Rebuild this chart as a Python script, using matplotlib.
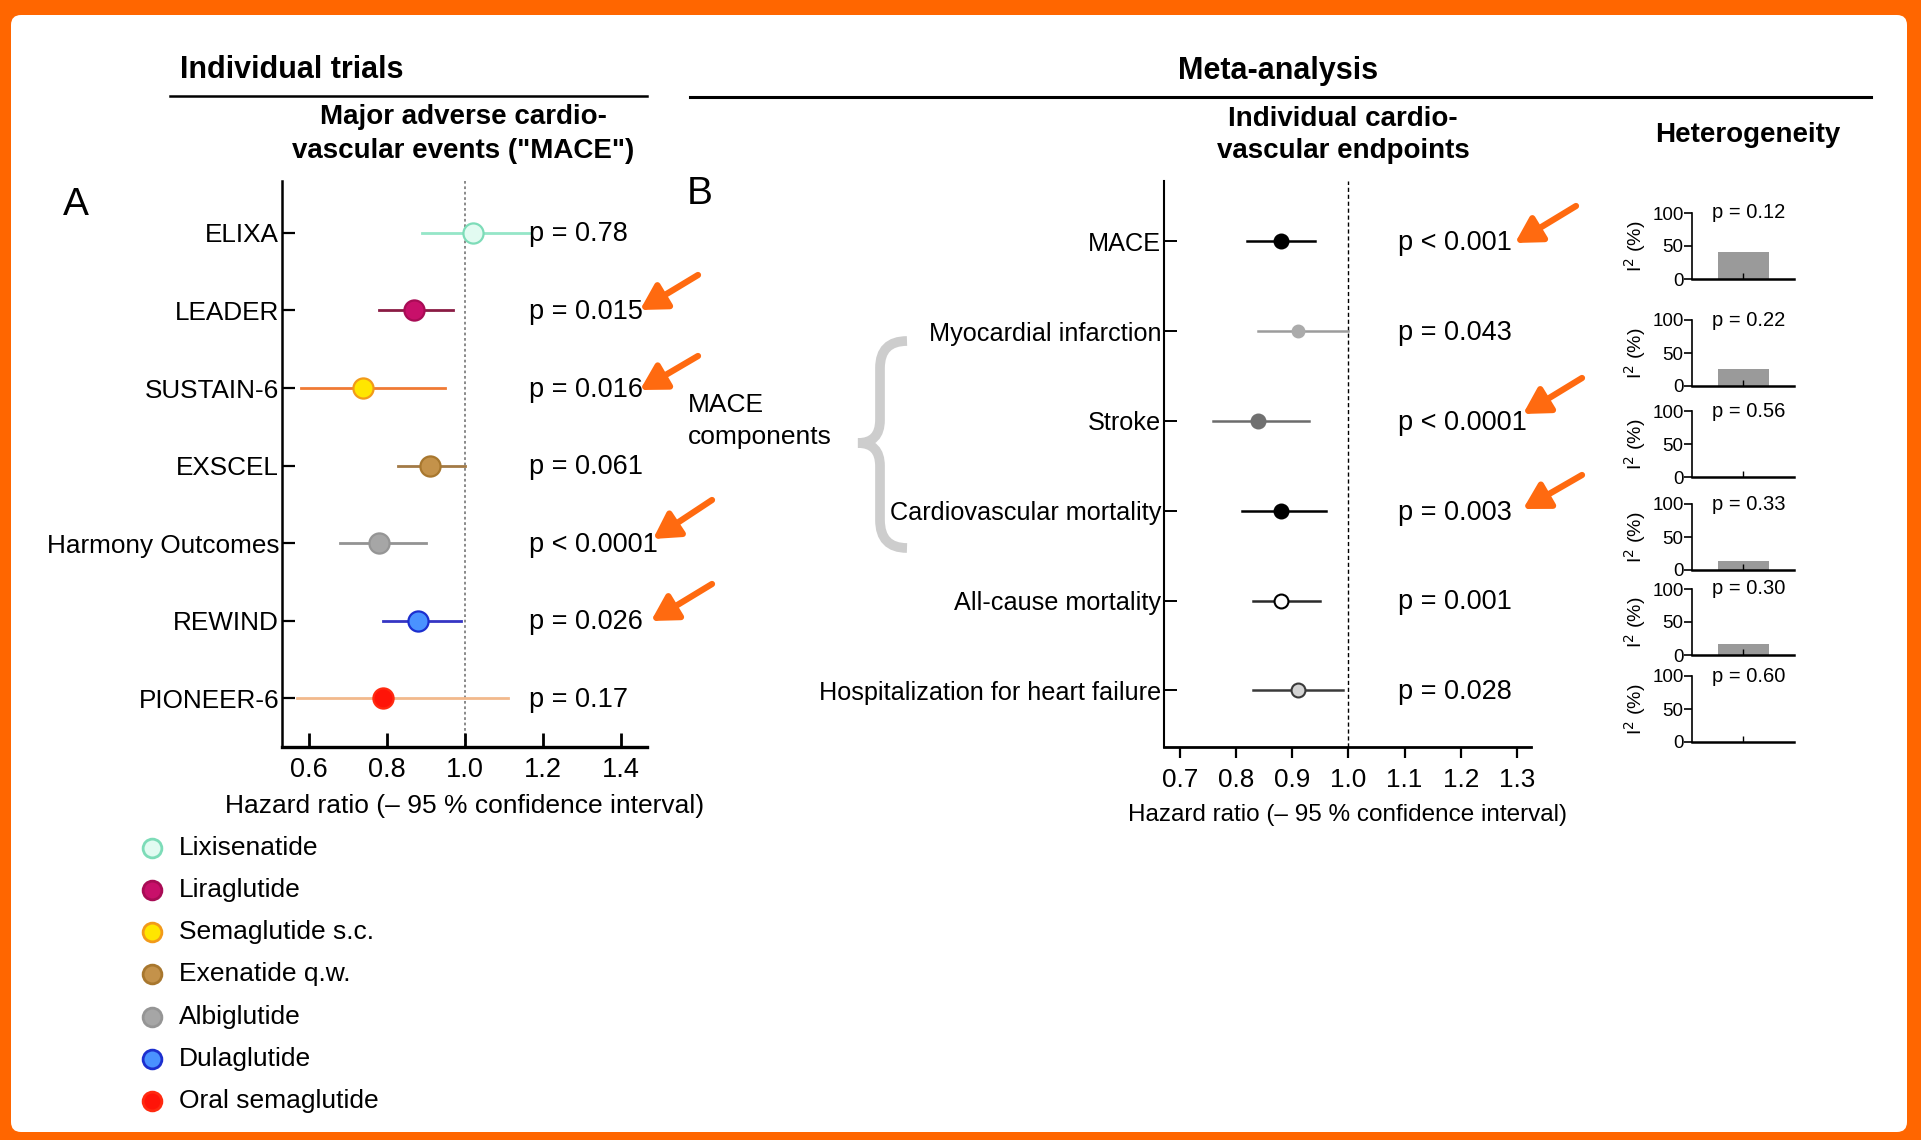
import numpy as np
import matplotlib
matplotlib.use("Agg")
import matplotlib.pyplot as plt
from matplotlib.lines import Line2D
from matplotlib.patches import FancyBboxPatch, FancyArrowPatch, PathPatch
from matplotlib.path import Path
from matplotlib.transforms import IdentityTransform

plt.rcParams['font.family'] = ['Liberation Sans', 'DejaVu Sans']

# panel A data
trials = ['ELIXA', 'LEADER', 'SUSTAIN-6', 'EXSCEL', 'Harmony Outcomes', 'REWIND', 'PIONEER-6']
hr_a = [1.02, 0.87, 0.74, 0.91, 0.78, 0.88, 0.79]
lo_a = [0.89, 0.78, 0.58, 0.83, 0.68, 0.79, 0.57]
hi_a = [1.17, 0.97, 0.95, 1.00, 0.90, 0.99, 1.11]
p_a = ['p = 0.78', 'p = 0.015', 'p = 0.016', 'p = 0.061', 'p < 0.0001', 'p = 0.026', 'p = 0.17']
drugs = ['Lixisenatide', 'Liraglutide', 'Semaglutide s.c.', 'Exenatide q.w.',
         'Albiglutide', 'Dulaglutide', 'Oral semaglutide']
face_a = ['#e2fbf1', '#c8106a', '#ffe600', '#c4924a', '#a6a6a6', '#4a92ff', '#ff1408']
edge_a = ['#7ddcb8', '#a80c55', '#f29a1a', '#a8772e', '#959595', '#1c2fcf', '#ff2a10']
line_a = ['#95e6c8', '#8a1c44', '#f07a34', '#a27a46', '#939393', '#3535c4', '#f2b98c']
ticks_a = [0.6, 0.8, 1.0, 1.2, 1.4]

# panel B data
endpoints = ['MACE', 'Myocardial infarction', 'Stroke', 'Cardiovascular mortality',
             'All-cause mortality', 'Hospitalization for heart failure']
hr_b = [0.88, 0.91, 0.84, 0.88, 0.88, 0.91]
lo_b = [0.82, 0.84, 0.76, 0.81, 0.83, 0.83]
hi_b = [0.94, 1.00, 0.93, 0.96, 0.95, 0.99]
p_b = ['p < 0.001', 'p = 0.043', 'p < 0.0001', 'p = 0.003', 'p = 0.001', 'p = 0.028']
face_b = ['black', '#ababab', '#707070', 'black', 'white', '#d4d4d4']
edge_b = ['black', '#ababab', '#707070', 'black', 'black', '#3a3a3a']
line_b = ['black', '#9c9c9c', '#6c6c6c', 'black', '#2a2a2a', '#3a3a3a']
ticks_b = [0.7, 0.8, 0.9, 1.0, 1.1, 1.2, 1.3]

# heterogeneity
i2 = [41, 25, 0, 13, 16, 0]
p_het = ['p = 0.12', 'p = 0.22', 'p = 0.56', 'p = 0.33', 'p = 0.30', 'p = 0.60']

W, H = 1921, 1140
fig = plt.figure(figsize=(W / 100, H / 100), dpi=100)
fig.patch.set_facecolor('#ff6600')
fig.add_artist(FancyBboxPatch((11, 8), 1896, 1117, boxstyle='round,pad=0,rounding_size=10',
                              transform=IdentityTransform(), facecolor='white', edgecolor='none', zorder=-5))


def fx(x):
    return x / W


def fy(y):
    return 1 - y / H


def box(l, t, r, b):
    return [fx(l), fy(b), (r - l) / W, (b - t) / H]


def ftext(x, y, s, **kw):
    fig.text(fx(x), fy(y), s, **kw)


# ---------- panel A
axA = fig.add_axes(box(282, 181, 647, 747))
ya = np.arange(len(trials))[::-1]
for i in range(len(trials)):
    axA.plot([lo_a[i], hi_a[i]], [ya[i], ya[i]], color=line_a[i], lw=2.0, zorder=2)
    axA.plot(hr_a[i], ya[i], 'o', ms=14.5, mfc=face_a[i], mec=edge_a[i], mew=1.6, zorder=3)
    axA.text(1.165, ya[i] - 0.02, p_a[i], va='center', ha='left', fontsize=19.5)
axA.axvline(1.0, color='#808080', ls=(0, (1.5, 1.5)), lw=1.3, zorder=1)
axA.set_xlim(0.532, 1.467)
axA.set_ylim(-0.63, 6.67)
axA.set_yticks(ya)
axA.set_yticklabels(trials)
axA.set_xticks(ticks_a)
axA.set_xticklabels(['%.1f' % t for t in ticks_a])
axA.tick_params(axis='y', direction='in', length=9, width=1.6, labelsize=18.8, pad=2)
axA.tick_params(axis='x', direction='in', length=10, width=2, labelsize=19.5, pad=7)
axA.spines['top'].set_visible(False)
axA.spines['right'].set_visible(False)
axA.spines['left'].set_linewidth(1.8)
axA.spines['bottom'].set_linewidth(2.4)
axA.set_xlabel('Hazard ratio (\u2013 95 % confidence interval)', fontsize=19, labelpad=8)

# ---------- panel B
axB = fig.add_axes(box(1164, 181, 1531, 747))
yb = np.arange(len(endpoints))[::-1]
for i in range(len(endpoints)):
    axB.plot([lo_b[i], hi_b[i]], [yb[i], yb[i]], color=line_b[i], lw=1.8, zorder=2)
    ms = 8.5 if i == 1 else 10
    axB.plot(hr_b[i], yb[i], 'o', ms=ms, mfc=face_b[i], mec=edge_b[i], mew=1.5, zorder=3)
    axB.text(1.088, yb[i] - 0.02, p_b[i], va='center', ha='left', fontsize=19.5)
axB.axvline(1.0, color='black', ls=(0, (3, 2)), lw=1.0, zorder=1)
axB.set_xlim(0.672, 1.325)
axB.set_ylim(-0.63, 5.67)
axB.set_yticks(yb)
axB.set_yticklabels(endpoints)
axB.set_xticks(ticks_b)
axB.set_xticklabels(['%.1f' % t for t in ticks_b])
axB.tick_params(axis='y', direction='in', length=9, width=1.4, labelsize=18.2, pad=2)
axB.tick_params(axis='x', direction='out', length=8, width=1.6, labelsize=18.8, pad=7)
axB.spines['top'].set_visible(False)
axB.spines['right'].set_visible(False)
axB.spines['left'].set_linewidth(1.5)
axB.spines['bottom'].set_linewidth(2.0)
axB.set_xlabel('Hazard ratio (\u2013 95 % confidence interval)', fontsize=17.5, labelpad=9)

# ---------- heterogeneity mini panels
zero_y = [279, 386, 477, 570, 655, 742]
for k in range(len(i2)):
    axH = fig.add_axes(box(1692, zero_y[k] - 66, 1794, zero_y[k]))
    axH.bar([0], [i2[k]], width=1.0, color='#9a9a9a')
    axH.set_xlim(-1, 1)
    axH.set_ylim(0, 100)
    axH.set_yticks([0, 50, 100])
    axH.set_xticks([0])
    axH.set_xticklabels([''])
    axH.tick_params(axis='y', direction='out', length=6, width=1.2, labelsize=13.5, pad=0)
    axH.tick_params(axis='x', direction='in', length=4, width=1.0)
    axH.spines['top'].set_visible(False)
    axH.spines['right'].set_visible(False)
    axH.spines['left'].set_linewidth(1.2)
    axH.spines['bottom'].set_linewidth(1.8)
    axH.set_ylabel('I$^2$ (%)', fontsize=14, labelpad=3)
    axH.text(0.56, 1.0, p_het[k], transform=axH.transAxes, ha='center', va='center', fontsize=14.5)

# ---------- legend
axL = fig.add_axes(box(130, 827, 520, 1122))
axL.set_axis_off()
axL.set_xlim(0, 1)
axL.set_ylim(-0.5, 6.5)
yl = np.arange(len(drugs))[::-1]
for i in range(len(drugs)):
    axL.plot(0.056, yl[i], 'o', ms=13.5, mfc=face_a[i], mec=edge_a[i], mew=2)
    axL.text(0.126, yl[i], drugs[i], va='center', ha='left', fontsize=19)

# ---------- headers
ftext(180, 70, 'Individual trials', fontsize=22, fontweight='bold', ha='left', va='center')
ftext(1278, 71, 'Meta-analysis', fontsize=22, fontweight='bold', ha='center', va='center')
fig.add_artist(Line2D([fx(170), fx(647)], [fy(96), fy(96)], lw=1.8, color='black'))
fig.add_artist(Line2D([fx(690), fx(1871)], [fy(97), fy(97)], lw=2.2, color='black'))
ftext(463, 134, 'Major adverse cardio-\nvascular events ("MACE")', fontsize=20,
      fontweight='bold', ha='center', va='center', linespacing=1.35)
ftext(1343, 135, 'Individual cardio-\nvascular endpoints', fontsize=20,
      fontweight='bold', ha='center', va='center', linespacing=1.35)
ftext(1748, 135, 'Heterogeneity', fontsize=20, fontweight='bold', ha='center', va='center')
ftext(76, 205, 'A', fontsize=28, ha='center', va='center')
ftext(700, 194, 'B', fontsize=28, ha='center', va='center')
ftext(688, 421, 'MACE\ncomponents', fontsize=19, ha='left', va='center', linespacing=1.4)

# curly brace
verts = [(907, 341), (880, 341), (880, 368), (880, 420), (880, 443), (858, 443),
         (880, 443), (880, 466), (880, 520), (880, 548), (907, 548)]
codes = [Path.MOVETO, Path.CURVE3, Path.CURVE3, Path.LINETO, Path.CURVE3, Path.CURVE3,
         Path.CURVE3, Path.CURVE3, Path.LINETO, Path.CURVE3, Path.CURVE3]
brace = Path([(fx(x), fy(y)) for x, y in verts], codes)
fig.add_artist(PathPatch(brace, facecolor='none', edgecolor='#cdcdcd', lw=7,
                         transform=fig.transFigure, capstyle='butt'))

# orange arrows
arrows = [((698, 275), (640, 310)), ((698, 356), (640, 390)),
          ((712, 500), (653, 539)), ((712, 584), (651, 621)),
          ((1576, 206), (1515, 243)), ((1582, 378), (1523, 414)),
          ((1582, 475), (1523, 509))]
for (x0, y0), (x1, y1) in arrows:
    fig.add_artist(FancyArrowPatch((fx(x0), fy(y0)), (fx(x1), fy(y1)), transform=fig.transFigure,
                                   arrowstyle='-|>,head_length=0.7,head_width=0.4', mutation_scale=22,
                                   lw=4.5, color='#ff6a10', shrinkA=0, shrinkB=0))

fig.savefig('out.png', dpi=100, facecolor=fig.get_facecolor())
